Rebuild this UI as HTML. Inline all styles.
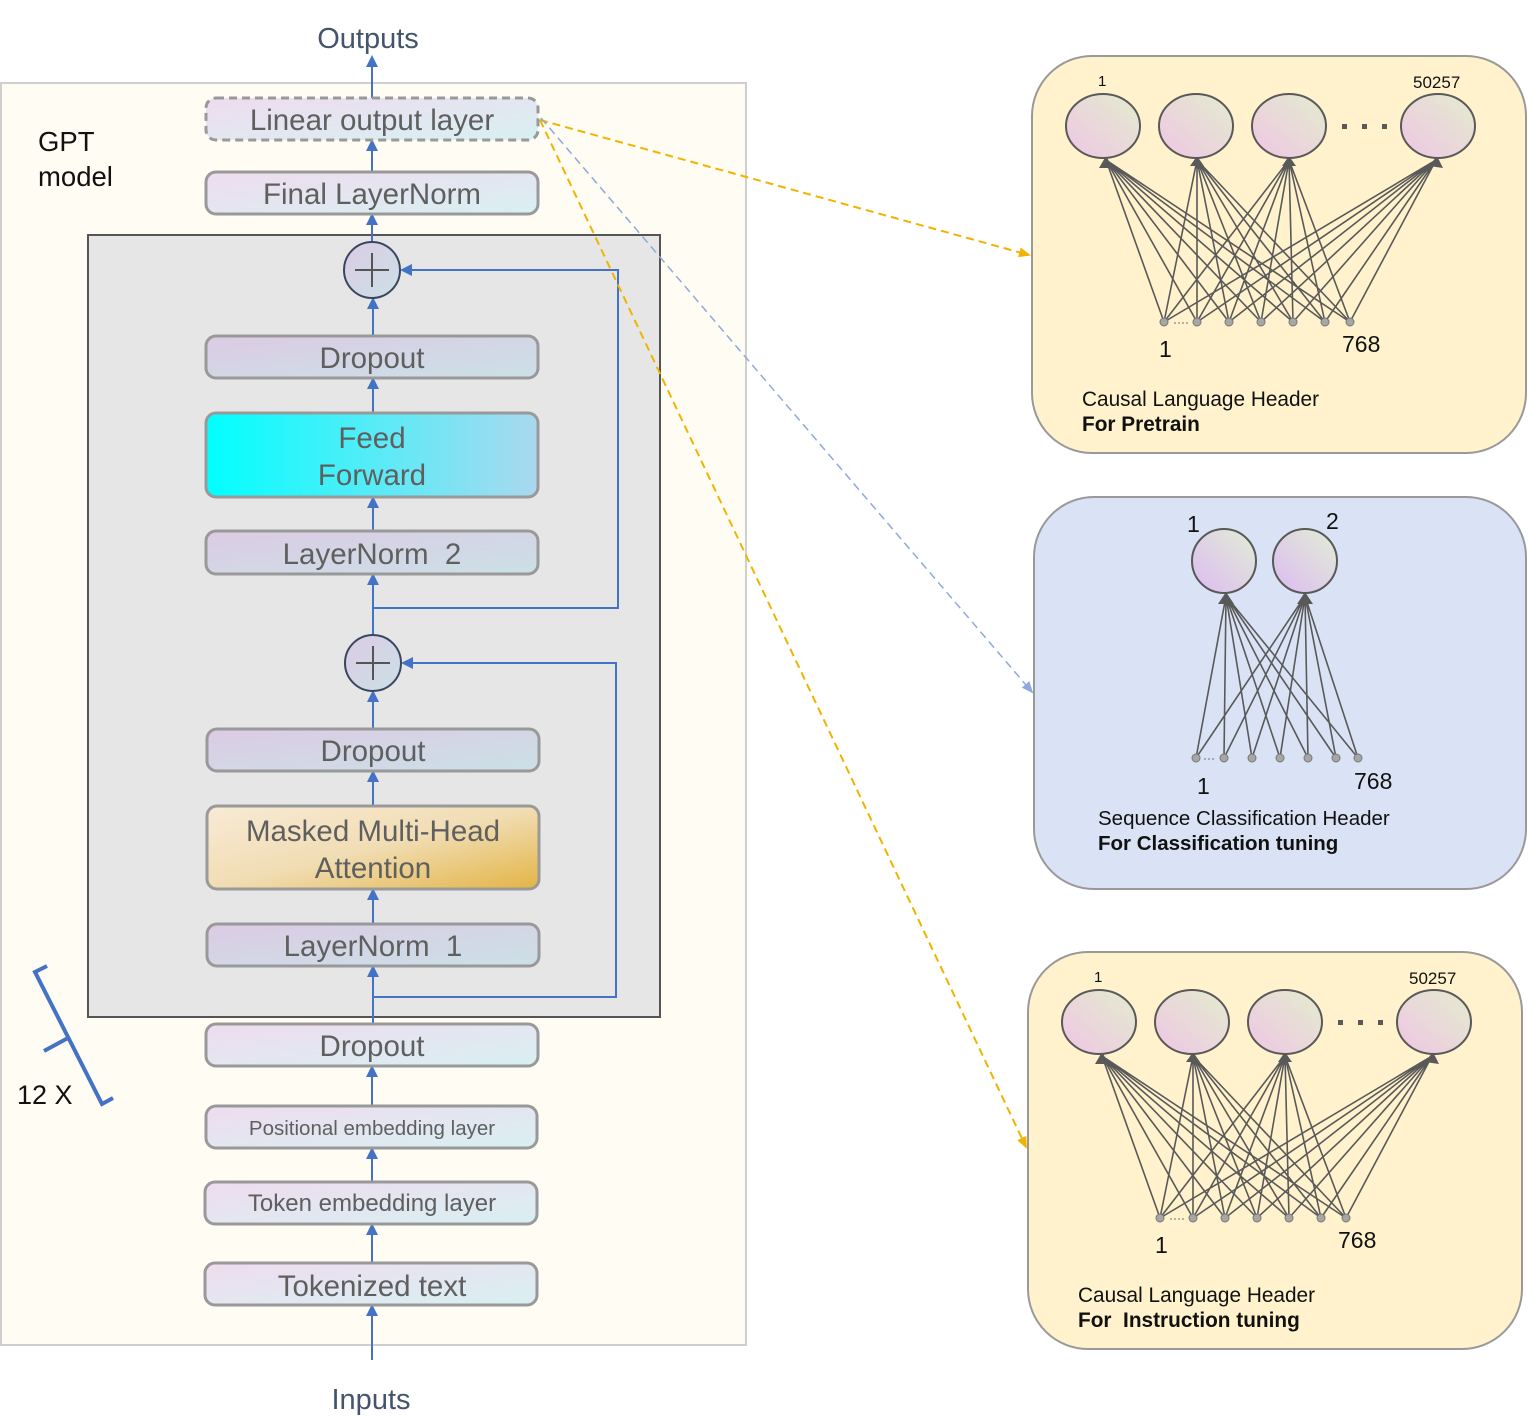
<!DOCTYPE html>
<html><head><meta charset="utf-8"><style>
html,body{margin:0;padding:0;background:#fff}
svg{display:block}
text{font-family:"Liberation Sans",Arial,sans-serif}
</style></head><body>
<svg width="1528" height="1419" viewBox="0 0 1528 1419" xmlns="http://www.w3.org/2000/svg">
<defs>
<linearGradient id="pc" x1="0" y1="0" x2="1" y2="1"><stop offset="0" stop-color="#efdcef"/><stop offset="1" stop-color="#d8f0f2"/></linearGradient>
<linearGradient id="pd" x1="0" y1="0" x2="1" y2="1"><stop offset="0" stop-color="#dccbe4"/><stop offset="1" stop-color="#cbe0e6"/></linearGradient>
<linearGradient id="ff" x1="0" y1="0" x2="1" y2="0"><stop offset="0" stop-color="#00ffff"/><stop offset="1" stop-color="#abd8ee"/></linearGradient>
<linearGradient id="mh" x1="0" y1="0" x2="1" y2="1"><stop offset="0" stop-color="#f8ead6"/><stop offset="0.5" stop-color="#f1ddb4"/><stop offset="1" stop-color="#e3b445"/></linearGradient>
<linearGradient id="nd" x1="0" y1="1" x2="1" y2="0"><stop offset="0" stop-color="#efc6e4"/><stop offset="1" stop-color="#e3ecce"/></linearGradient>
<linearGradient id="nd2" x1="0" y1="1" x2="1" y2="0"><stop offset="0" stop-color="#dcbaf2"/><stop offset="1" stop-color="#e2eed5"/></linearGradient>
<marker id="ab" markerWidth="12" markerHeight="12" refX="10" refY="6" orient="auto" markerUnits="userSpaceOnUse"><path d="M0,0L12,6L0,12z" fill="#4472c4"/></marker>
<marker id="ao" markerWidth="12" markerHeight="10" refX="10" refY="5" orient="auto" markerUnits="userSpaceOnUse"><path d="M0,0L12,5L0,10z" fill="#f0b400"/></marker>
<marker id="al" markerWidth="12" markerHeight="10" refX="10" refY="5" orient="auto" markerUnits="userSpaceOnUse"><path d="M0,0L12,5L0,10z" fill="#8fa9dc"/></marker>
<g id="net">
<path fill="none" stroke="#595959" stroke-width="1.6" d="M1164 322L1106 160M1164 322L1197 160M1164 322L1289 160M1164 322L1436 160M1197 322L1106 160M1197 322L1197 160M1197 322L1289 160M1197 322L1436 160M1229 322L1106 160M1229 322L1197 160M1229 322L1289 160M1229 322L1436 160M1261 322L1106 160M1261 322L1197 160M1261 322L1289 160M1261 322L1436 160M1293 322L1106 160M1293 322L1197 160M1293 322L1289 160M1293 322L1436 160M1325 322L1106 160M1325 322L1197 160M1325 322L1289 160M1325 322L1436 160M1350 322L1106 160M1350 322L1197 160M1350 322L1289 160M1350 322L1436 160"/>
<path fill="#595959" d="M1099 168L1106 156L1113 168zM1190 166L1197 156L1204 166zM1282 166L1289 156L1296 166zM1429 166L1437 156L1443 168z"/>
<g fill="url(#nd)" stroke="#595959" stroke-width="2">
<ellipse cx="1103" cy="126" rx="37" ry="32"/><ellipse cx="1196" cy="126" rx="37" ry="32"/><ellipse cx="1289" cy="126" rx="37" ry="32"/><ellipse cx="1438" cy="126" rx="37" ry="32"/>
</g>
<g fill="#a6a6a6" stroke="#777" stroke-width="1"><circle cx="1164" cy="322" r="4"/><circle cx="1197" cy="322" r="4"/><circle cx="1229" cy="322" r="4"/><circle cx="1261" cy="322" r="4"/><circle cx="1293" cy="322" r="4"/><circle cx="1325" cy="322" r="4"/><circle cx="1350" cy="322" r="4"/></g>
<path d="M1174 323H1188" stroke="#888" stroke-width="1.2" stroke-dasharray="2,2"/>
<g fill="#595959"><rect x="1342" y="124" width="5" height="5"/><rect x="1362" y="124" width="5" height="5"/><rect x="1382" y="124" width="5" height="5"/></g>
<text x="1098" y="86" font-size="15" fill="#111">1</text>
<text x="1413" y="88" font-size="17" fill="#111">50257</text>
<text x="1159" y="357" font-size="23" fill="#111">1</text>
<text x="1342" y="352" font-size="23" fill="#111">768</text>
</g>
</defs>

<text x="368" y="48" font-size="29" fill="#44546a" text-anchor="middle">Outputs</text>
<text x="371" y="1409" font-size="29" fill="#44546a" text-anchor="middle">Inputs</text>

<rect x="1" y="83" width="745" height="1262" fill="#fffcf3" stroke="#cfcfcf" stroke-width="2"/>
<rect x="88" y="235" width="572" height="782" fill="#e6e6e6" stroke="#555" stroke-width="2"/>
<text x="38" y="151" font-size="27.5" fill="#111">GPT</text>
<text x="38" y="186" font-size="27.5" fill="#111">model</text>

<path d="M47 966L35 972L102 1104L113 1098M68 1038L44 1051" fill="none" stroke="#4472c4" stroke-width="4"/>
<text x="17" y="1104" font-size="27" fill="#111">12 X</text>

<g stroke="#4472c4" stroke-width="2" fill="none" marker-end="url(#ab)">
<line x1="372" y1="1360" x2="372" y2="1306"/>
<line x1="372" y1="1263" x2="372" y2="1225"/>
<line x1="372" y1="1182" x2="372" y2="1149"/>
<line x1="372" y1="1106" x2="372" y2="1067"/>
<line x1="373" y1="1024" x2="373" y2="967"/>
<line x1="373" y1="924" x2="373" y2="890"/>
<line x1="373" y1="806" x2="373" y2="772"/>
<line x1="373" y1="729" x2="373" y2="692"/>
<line x1="373" y1="635" x2="373" y2="575"/>
<line x1="373" y1="531" x2="373" y2="498"/>
<line x1="373" y1="413" x2="373" y2="379"/>
<line x1="373" y1="336" x2="373" y2="299"/>
<line x1="372" y1="242" x2="372" y2="215"/>
<line x1="372" y1="172" x2="372" y2="141"/>
<line x1="372" y1="98" x2="372" y2="57"/>
<polyline points="373,608 618,608 618,270 402,270"/>
<polyline points="373,997 616,997 616,663 403,663"/>
</g>

<g stroke="#999" stroke-width="3">
<rect x="206" y="98" width="332" height="42" rx="10" fill="url(#pc)" stroke="#999" stroke-dasharray="8,5"/>
<rect x="206" y="172" width="332" height="42" rx="10" fill="url(#pc)"/>
<rect x="206" y="336" width="332" height="42" rx="10" fill="url(#pd)"/>
<rect x="206" y="413" width="332" height="84" rx="10" fill="url(#ff)"/>
<rect x="206" y="531" width="332" height="43" rx="10" fill="url(#pd)"/>
<rect x="207" y="729" width="332" height="42" rx="10" fill="url(#pd)"/>
<rect x="207" y="806" width="332" height="83" rx="10" fill="url(#mh)"/>
<rect x="207" y="924" width="332" height="42" rx="10" fill="url(#pd)"/>
<rect x="206" y="1024" width="332" height="42" rx="10" fill="url(#pc)"/>
<rect x="206" y="1106" width="331" height="42" rx="10" fill="url(#pc)"/>
<rect x="205" y="1182" width="332" height="42" rx="10" fill="url(#pc)"/>
<rect x="205" y="1263" width="332" height="42" rx="10" fill="url(#pc)"/>
</g>
<g fill="url(#pd)" stroke="#3a4660" stroke-width="2">
<circle cx="372" cy="270" r="28"/><circle cx="373" cy="663" r="28"/>
</g>
<path d="M355 270H389M372 253V287M356 663H390M373 646V680" stroke="#555" stroke-width="2"/>

<g fill="#5f5f5f" text-anchor="middle" font-size="29.5">
<text x="372" y="130">Linear output layer</text>
<text x="372" y="204">Final LayerNorm</text>
<text x="372" y="368">Dropout</text>
<text x="372" y="448">Feed</text>
<text x="372" y="485">Forward</text>
<text x="372" y="564">LayerNorm&#160; 2</text>
<text x="373" y="761">Dropout</text>
<text x="373" y="841">Masked Multi-Head</text>
<text x="373" y="878">Attention</text>
<text x="373" y="956">LayerNorm&#160; 1</text>
<text x="372" y="1056">Dropout</text>
<text x="372" y="1135" font-size="20.5">Positional embedding layer</text>
<text x="372" y="1211" font-size="24">Token embedding layer</text>
<text x="372" y="1296">Tokenized text</text>
</g>

<rect x="1032" y="56" width="494" height="397" rx="60" fill="#fff2cc" stroke="#999" stroke-width="2"/>
<rect x="1034" y="497" width="492" height="392" rx="60" fill="#dae3f5" stroke="#999" stroke-width="2"/>
<rect x="1028" y="952" width="494" height="397" rx="60" fill="#fff2cc" stroke="#999" stroke-width="2"/>

<use href="#net"/>
<use href="#net" transform="translate(-4,896)"/>

<text x="1082" y="406" font-size="20.8" fill="#111">Causal Language Header</text>
<text x="1082" y="431" font-size="20.8" fill="#111" font-weight="bold">For Pretrain</text>
<text x="1078" y="1302" font-size="20.8" fill="#111">Causal Language Header</text>
<text x="1078" y="1327" font-size="20.8" fill="#111" font-weight="bold">For&#160; Instruction tuning</text>

<path fill="none" stroke="#595959" stroke-width="1.6" d="M1196 758L1226 596M1196 758L1305 596M1224 758L1226 596M1224 758L1305 596M1252 758L1226 596M1252 758L1305 596M1280 758L1226 596M1280 758L1305 596M1308 758L1226 596M1308 758L1305 596M1336 758L1226 596M1336 758L1305 596M1358 758L1226 596M1358 758L1305 596"/>
<path fill="#595959" d="M1218 604L1226 592L1234 604zM1297 604L1305 592L1313 604z"/>
<g fill="url(#nd2)" stroke="#595959" stroke-width="2"><circle cx="1224" cy="561" r="32"/><circle cx="1305" cy="561" r="32"/></g>
<g fill="#a6a6a6" stroke="#777" stroke-width="1"><circle cx="1196" cy="758" r="4"/><circle cx="1224" cy="758" r="4"/><circle cx="1252" cy="758" r="4"/><circle cx="1280" cy="758" r="4"/><circle cx="1308" cy="758" r="4"/><circle cx="1336" cy="758" r="4"/><circle cx="1358" cy="758" r="4"/></g>
<path d="M1204 759H1216" stroke="#888" stroke-width="1.2" stroke-dasharray="2,2"/>
<text x="1187" y="532" font-size="23" fill="#111">1</text>
<text x="1326" y="529" font-size="23" fill="#111">2</text>
<text x="1197" y="794" font-size="23" fill="#111">1</text>
<text x="1354" y="789" font-size="23" fill="#111">768</text>
<text x="1098" y="825" font-size="20.5" fill="#111">Sequence Classification Header</text>
<text x="1098" y="850" font-size="20.5" fill="#111" font-weight="bold">For Classification tuning</text>

<g fill="none" stroke-width="2" stroke-dasharray="8,5">
<line x1="540" y1="120" x2="1029" y2="255" stroke="#f0b400" marker-end="url(#ao)"/>
<line x1="540" y1="120" x2="1026" y2="1147" stroke="#f0b400" marker-end="url(#ao)"/>
<line x1="541" y1="118" x2="1032" y2="692" stroke="#8fa9dc" stroke-width="1.5" marker-end="url(#al)"/>
</g>
</svg>
</body></html>
